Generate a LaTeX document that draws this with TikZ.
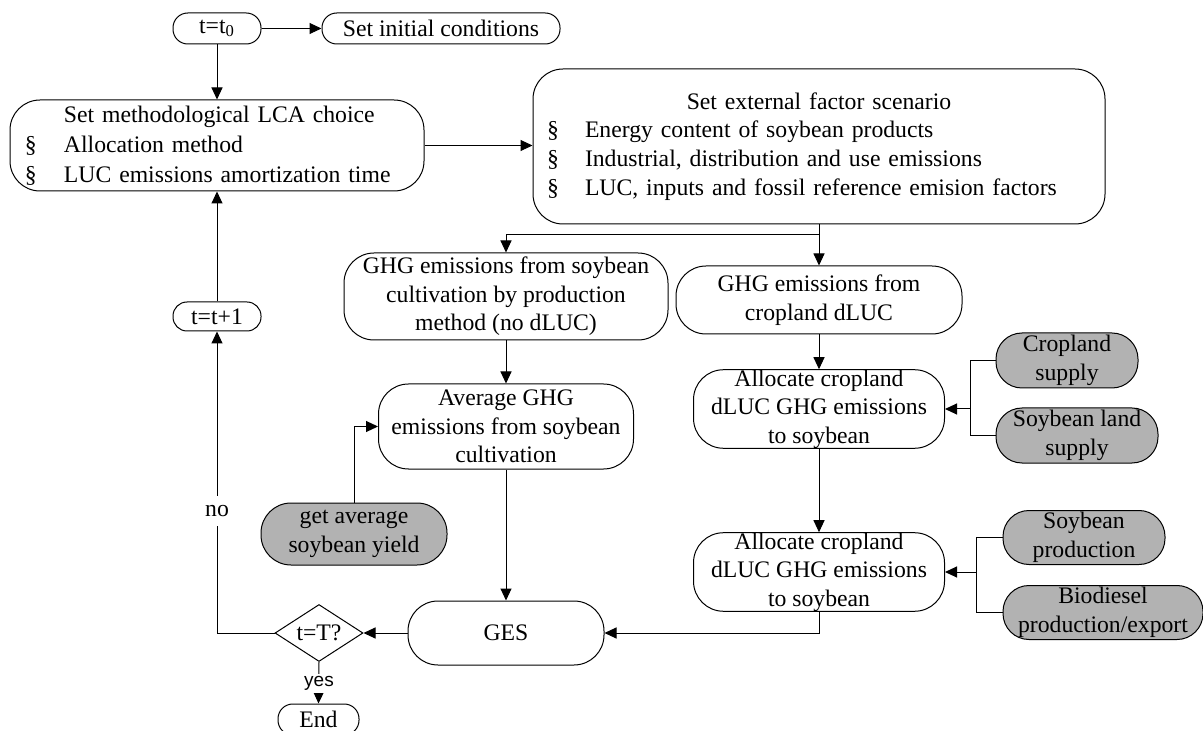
\documentclass[tikz,border=0pt]{standalone}
\usepackage{fontspec}
\setmainfont{Liberation Serif}
\newfontfamily\sansf{Liberation Sans}
\usetikzlibrary{arrows.meta,shapes.geometric}
\tikzset{
  txt/.style={font=\fontsize{11.85}{14.25}\selectfont},
  box/.style={draw, line width=0.5pt, rounded corners=15pt, inner sep=0pt, align=center, txt},
  smallbox/.style={box, rounded corners=7.4pt},
  greybox/.style={box, fill=gray!60, rounded corners=13pt},
  arr/.style={-{Triangle[length=6pt,width=5.5pt]}, line width=0.5pt},
  ln/.style={line width=0.5pt},
  lab/.style={fill=white, inner xsep=1pt, inner ysep=0pt, txt},
}
\begin{document}
\begin{tikzpicture}[x=0.5pt, y=-0.5pt]
\useasboundingbox (0,0) rectangle (1203,731);
% nodes
\node[smallbox, minimum width=44pt, minimum height=15.5pt] (t0) at (217,28.5) {t=t\textsubscript{0}};
\node[smallbox, minimum width=119pt, minimum height=15.5pt] (init) at (441,28.5) {Set initial conditions};
\node[box, minimum width=207pt, minimum height=45.5pt, text width=192pt, inner xsep=7.5pt, align=left, font=\fontsize{11.85}{15}\selectfont] (meth) at (217,145.5)
  {\hspace*{19.5pt}Set methodological LCA choice\\
   \makebox[19.5pt][l]{§}Allocation method\\
   \makebox[19.5pt][l]{§}LUC emissions amortization time};
\node[box, minimum width=286pt, minimum height=77.5pt, text width=272pt, inner xsep=7pt, align=left, font=\fontsize{11.85}{14.33}\selectfont] (ext) at (819,146.5)
  {\makebox[272pt][c]{Set external factor scenario}\\
   \makebox[19pt][l]{§}Energy content of soybean products\\
   \makebox[19pt][l]{§}Industrial, distribution and use emissions\\
   \makebox[19pt][l]{§}LUC, inputs and fossil reference emision factors};
\node[box, minimum width=162pt, minimum height=43.5pt] (ghgs) at (506,296.5)
  {GHG emissions from soybean\\cultivation by production\\method (no dLUC)};
\node[box, minimum width=143pt, minimum height=34pt] (ghgc) at (819,300)
  {GHG emissions from\\cropland dLUC};
\node[box, minimum width=125.5pt, minimum height=39pt] (alloca) at (819,409)
  {Allocate cropland\\dLUC GHG emissions\\to soybean};
\node[greybox, minimum width=71pt, minimum height=27.5pt] (cs) at (1067,360.5) {Cropland\\supply};
\node[greybox, minimum width=81pt, minimum height=27.5pt] (sls) at (1077,435.5) {Soybean land\\supply};
\node[box, minimum width=125.5pt, minimum height=39pt] (allocb) at (819,572)
  {Allocate cropland\\dLUC GHG emissions\\to soybean};
\node[greybox, minimum width=81pt, minimum height=27pt] (sp) at (1084,537.5) {Soybean\\production};
\node[greybox, minimum width=100pt, minimum height=27pt] (bd) at (1103,612.5) {Biodiesel\\production/export};
\node[box, minimum width=127.5pt, minimum height=42.5pt] (avg) at (506,426.5)
  {Average GHG\\emissions from soybean\\cultivation};
\node[greybox, minimum width=93pt, minimum height=31pt, rounded corners=15pt] (gay) at (354,534)
  {get average\\soybean yield};
\node[box, minimum width=98pt, minimum height=32pt] (ges) at (506,633) {GES};
\node[draw, ln, diamond, aspect=1.55, inner sep=0pt, minimum width=44pt, minimum height=28.5pt, txt] (dia) at (319,633) {t=T?};
\node[smallbox, minimum width=44pt, minimum height=14.5pt, rounded corners=7pt] (tp) at (217,316.5) {t=t+1};
\node[smallbox, minimum width=40.5pt, minimum height=15.5pt] (endn) at (318.5,719.5) {End};
% connectors
\draw[arr] (t0) -- (init);
\draw[arr] (t0) -- (meth);
\draw[arr] (meth.east) -- (meth.east -| ext.west);
\draw[arr] (ext.south) -- (ghgc.north);
\coordinate (br) at (819,235);
\draw[arr] (br) -| (ghgs.north);
\draw[arr] (ghgs) -- (avg);
\draw[arr] (gay.north) |- (avg.west);
\draw[arr] (avg) -- (ges);
\draw[arr] (ghgc) -- (alloca);
\draw[arr] (alloca) -- (allocb);
\coordinate (ja) at (970,409);
\draw[ln] (cs.west) -| (ja) |- (sls.west);
\draw[arr] (ja) -- (ja -| alloca.east);
\coordinate (jb) at (976,572);
\draw[ln] (sp.west) -| (jb) |- (bd.west);
\draw[arr] (jb) -- (jb -| allocb.east);
\draw[arr] (allocb.south) |- (ges.east);
\draw[arr] (ges) -- (dia);
\draw[arr] (dia.west) -| (tp.south);
\draw[arr] (tp) -- (meth);
\node[lab, minimum height=15pt] (no) at (217,511) {no};
\draw[arr] (dia.south) -- (endn.north);
\node[fill=white, inner xsep=1pt, inner ysep=0pt, minimum height=9.5pt, font=\sansf\fontsize{9.5}{11}\selectfont] (yes) at (319,683) {yes};
\end{tikzpicture}
\end{document}
